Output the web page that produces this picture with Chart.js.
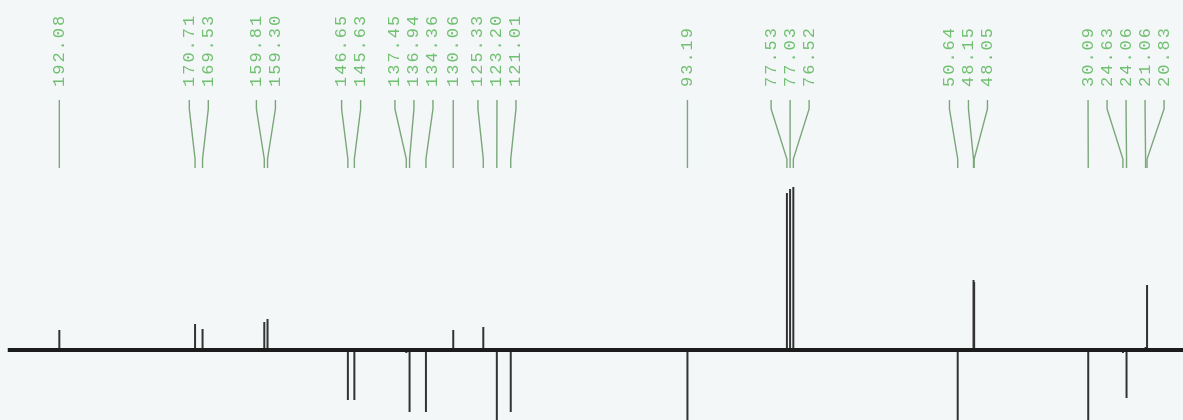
<!DOCTYPE html>
<html>
<head>
<meta charset="utf-8">
<script src="https://cdn.jsdelivr.net/npm/chart.js@4.4.1/dist/chart.umd.min.js"></script>
<style>
  html, body { margin: 0; padding: 0; background: #f4f7f8; }
  #wrap { width: 1183px; height: 420px; }
</style>
</head>
<body>
<div id="wrap"><canvas id="c" width="1183" height="420"></canvas></div>
<script>
// Peak chemical shifts (ppm), as labelled
const peakPpm = [192.08, 170.71, 169.53, 159.81, 159.30, 146.65, 145.63, 137.45, 136.94, 134.36,
                 130.06, 125.33, 123.20, 121.01, 93.19, 77.53, 77.03, 76.52, 50.64, 48.15, 48.05,
                 30.09, 24.63, 24.06, 21.06, 20.83];
// Peak intensities (arbitrary units, positive up / negative down)
const peakIntensity = [20, 26, 21, 28, 31, -50, -50, -3, -62, -62,
                       20, 23, -85, -62, -85, 157, 161, 163, -85, 70, 68,
                       -85, -3, -48, 3, 65];
// Spectrum limits (ppm)
const spectrumStart = 200.2;
const spectrumEnd = 15.0;
const axisMin = 15.17;
const axisMax = 201.42;

// Build datasets from the arrays
const baselineData = [{x: spectrumStart, y: 0}, {x: spectrumEnd, y: 0}];
const peakData = [];
peakPpm.forEach((p, i) => {
  peakData.push({x: p, y: 0});
  peakData.push({x: p, y: peakIntensity[i]});
  peakData.push({x: p, y: null});
});

const bgPlugin = {
  id: 'bg',
  beforeDraw(chart) {
    const ctx = chart.ctx;
    ctx.save();
    ctx.fillStyle = '#f4f7f8';
    ctx.fillRect(0, 0, chart.width, chart.height);
    ctx.restore();
  }
};

const labelPlugin = {
  id: 'peakLabels',
  afterDraw(chart) {
    const xs = chart.scales.x;
    const ctx = chart.ctx;
    const spacing = 19;
    const items = peakPpm.map((p, i) => ({ppm: p, text: p.toFixed(2), ideal: xs.getPixelForValue(p)}))
                         .sort((a, b) => a.ideal - b.ideal);
    let clusters = items.map(it => ({items: [it]}));
    const place = c => {
      const mean = c.items.reduce((s, it) => s + it.ideal, 0) / c.items.length;
      const n = c.items.length;
      c.items.forEach((it, k) => { it.pos = mean + (k - (n - 1) / 2) * spacing; });
    };
    clusters.forEach(place);
    let merged = true;
    while (merged) {
      merged = false;
      for (let k = 0; k < clusters.length - 1; k++) {
        const a = clusters[k], b = clusters[k + 1];
        const aLast = a.items[a.items.length - 1].pos;
        const bFirst = b.items[0].pos;
        if (bFirst - aLast < spacing) {
          a.items = a.items.concat(b.items);
          clusters.splice(k + 1, 1);
          place(a);
          merged = true;
          break;
        }
      }
    }
    ctx.save();
    // connector lines
    ctx.strokeStyle = '#7aa67a';
    ctx.lineWidth = 1.4;
    items.forEach(it => {
      ctx.beginPath();
      ctx.moveTo(it.pos, 100);
      ctx.lineTo(it.pos, 109);
      ctx.lineTo(it.ideal, 159);
      ctx.lineTo(it.ideal, 168);
      ctx.stroke();
    });
    // texts
    ctx.fillStyle = '#72c072';
    ctx.font = '17px "Liberation Mono", "DejaVu Sans Mono", monospace';
    try { ctx.letterSpacing = '2px'; } catch (e) {}
    ctx.textAlign = 'left';
    ctx.textBaseline = 'middle';
    items.forEach(it => {
      ctx.save();
      ctx.translate(it.pos, 87);
      ctx.rotate(-Math.PI / 2);
      ctx.fillText(it.text, 0, 0);
      ctx.restore();
    });
    ctx.restore();
  }
};

new Chart(document.getElementById('c'), {
  type: 'line',
  data: {
    datasets: [
      {
        data: baselineData,
        borderColor: '#1c1c1c',
        borderWidth: 4,
        pointRadius: 0,
        tension: 0
      },
      {
        data: peakData,
        borderColor: '#333333',
        borderWidth: 2,
        pointRadius: 0,
        spanGaps: false,
        tension: 0
      }
    ]
  },
  options: {
    responsive: false,
    animation: false,
    events: [],
    layout: { padding: 0 },
    plugins: { legend: { display: false }, tooltip: { enabled: false } },
    scales: {
      x: { type: 'linear', reverse: true, min: axisMin, max: axisMax, display: false },
      y: { type: 'linear', min: -70, max: 350, display: false }
    }
  },
  plugins: [bgPlugin, labelPlugin]
});
</script>
</body>
</html>
